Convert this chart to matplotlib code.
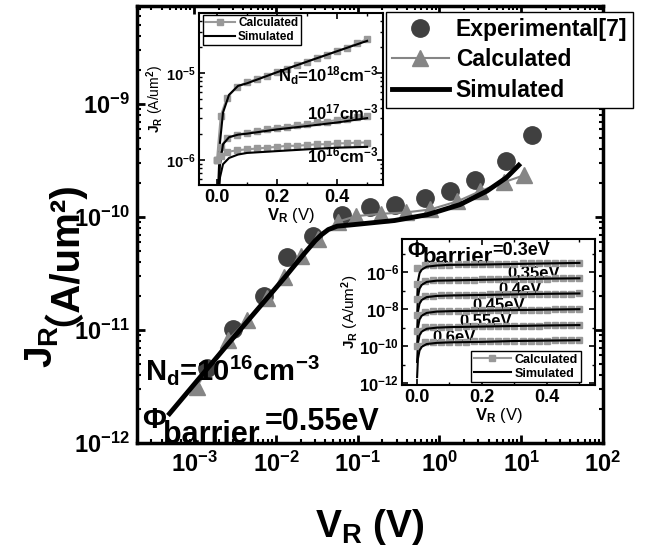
import matplotlib
matplotlib.use('Agg')
import matplotlib.pyplot as plt
from matplotlib.lines import Line2D

plt.rcParams['font.family'] = ['Liberation Sans', 'Noto Sans CJK SC']
plt.rcParams['font.weight'] = 'bold'
plt.rcParams['mathtext.fontset'] = 'custom'
plt.rcParams['mathtext.rm'] = 'Liberation Sans:bold'
plt.rcParams['mathtext.it'] = 'Liberation Sans:bold'
plt.rcParams['mathtext.bf'] = 'Liberation Sans:bold'
plt.rcParams['mathtext.sf'] = 'Liberation Sans:bold'
plt.rcParams['mathtext.default'] = 'rm'

# ---- main plot: J_R vs V_R, Nd=1e16, barrier 0.55 eV ----
exp_v = [0.00145, 0.00295, 0.00708, 0.0135, 0.0288, 0.0646, 0.141, 0.282,
         0.661, 1.35, 2.75, 6.46, 13.5]
exp_j = [4.57e-12, 1.02e-11, 2.0e-11, 4.47e-11, 6.76e-11, 1.05e-10, 1.23e-10,
         1.29e-10, 1.48e-10, 1.70e-10, 2.14e-10, 3.16e-10, 5.37e-10]

calc_v = [0.00107, 0.00257, 0.00447, 0.00776, 0.0126, 0.0200, 0.0331, 0.0575,
          0.0955, 0.191, 0.389, 0.776, 1.66, 3.16, 6.17, 10.7]
calc_j = [3.16e-12, 8.13e-12, 1.23e-11, 1.91e-11, 2.95e-11, 4.57e-11, 6.46e-11,
          9.12e-11, 1.02e-10, 1.07e-10, 1.10e-10, 1.17e-10, 1.38e-10, 1.70e-10,
          2.04e-10, 2.34e-10]

sim_v = [5.0e-4, 2.69e-3, 1.26e-2, 2.24e-2, 3.02e-2, 3.55e-2, 4.37e-2, 5.62e-2,
         7.94e-2, 0.110, 0.282, 0.708, 1.78, 3.80, 6.61, 9.33]
sim_j = [1.82e-12, 7.76e-12, 2.88e-11, 4.79e-11, 6.17e-11, 6.92e-11, 7.76e-11,
         8.32e-11, 8.51e-11, 8.71e-11, 9.33e-11, 1.05e-10, 1.29e-10, 1.70e-10,
         2.24e-10, 2.88e-10]

# ---- inset 1: different doping ----
in1_calc_v = [0.0, 0.0125, 0.033, 0.067, 0.1, 0.133, 0.167, 0.2, 0.233, 0.267,
              0.3, 0.333, 0.367, 0.4, 0.433, 0.467, 0.5]
in1_calc_18 = [1.0e-6, 3.2e-6, 5.2e-6, 6.9e-6, 7.8e-6, 8.5e-6, 9.3e-6, 1.02e-5,
               1.12e-5, 1.23e-5, 1.35e-5, 1.48e-5, 1.62e-5, 1.78e-5, 1.95e-5,
               2.19e-5, 2.45e-5]
in1_calc_17 = [1.0e-6, 1.41e-6, 1.78e-6, 1.95e-6, 2.04e-6, 2.14e-6, 2.24e-6,
               2.34e-6, 2.40e-6, 2.51e-6, 2.57e-6, 2.69e-6, 2.75e-6, 2.88e-6,
               2.95e-6, 3.09e-6, 3.16e-6]
in1_calc_16 = [1.0e-6, 1.12e-6, 1.23e-6, 1.29e-6, 1.32e-6, 1.35e-6, 1.38e-6,
               1.41e-6, 1.45e-6, 1.45e-6, 1.48e-6, 1.51e-6, 1.51e-6, 1.55e-6,
               1.55e-6, 1.58e-6, 1.58e-6]
in1_sim_v = [0.0, 0.004, 0.01, 0.02, 0.04, 0.07, 0.1, 0.2, 0.3, 0.4, 0.5]
in1_sim_18 = [1e-8, 5.0e-7, 1.6e-6, 3.5e-6, 5.6e-6, 7.1e-6, 7.6e-6, 1.02e-5,
              1.35e-5, 1.78e-5, 2.34e-5]
in1_sim_17 = [1e-8, 4.0e-7, 8.9e-7, 1.51e-6, 1.82e-6, 1.95e-6, 2.0e-6, 2.24e-6,
              2.45e-6, 2.69e-6, 3.02e-6]
in1_sim_16 = [1e-8, 3.2e-7, 6.3e-7, 8.9e-7, 1.05e-6, 1.15e-6, 1.20e-6, 1.26e-6,
              1.32e-6, 1.38e-6, 1.41e-6]

# ---- inset 2: different barrier heights ----
in2_calc_v = [0.0, 0.025, 0.05, 0.075, 0.1, 0.125, 0.15, 0.175, 0.2, 0.225,
              0.25, 0.275, 0.3, 0.325, 0.35, 0.375, 0.4, 0.425, 0.45, 0.475, 0.5]
in2_calc = {
    '0.3': [1.6e-6, 2.4e-6, 2.5e-6, 2.6e-6, 2.6e-6, 2.7e-6, 2.7e-6, 2.8e-6, 2.8e-6,
            2.9e-6, 2.9e-6, 2.9e-6, 2.9e-6, 3.0e-6, 3.0e-6, 3.0e-6, 3.1e-6,
            3.1e-6, 3.1e-6, 3.2e-6, 3.2e-6],
    '0.35': [2.4e-7, 3.5e-7, 3.7e-7, 3.8e-7, 3.8e-7, 3.9e-7, 3.9e-7, 4.0e-7,
             4.1e-7, 4.2e-7, 4.2e-7, 4.3e-7, 4.3e-7, 4.4e-7, 4.4e-7, 4.5e-7,
             4.5e-7, 4.6e-7, 4.6e-7, 4.7e-7, 4.7e-7],
    '0.4': [3.6e-8, 5.3e-8, 5.5e-8, 5.7e-8, 5.8e-8, 5.9e-8, 6.0e-8, 6.1e-8,
            6.2e-8, 6.3e-8, 6.4e-8, 6.5e-8, 6.5e-8, 6.6e-8, 6.7e-8, 6.7e-8,
            6.8e-8, 6.9e-8, 7.0e-8, 7.0e-8, 7.1e-8],
    '0.45': [5.0e-9, 7.5e-9, 7.8e-9, 8.0e-9, 8.1e-9, 8.3e-9, 8.4e-9, 8.6e-9,
             8.7e-9, 8.9e-9, 9.0e-9, 9.1e-9, 9.2e-9, 9.3e-9, 9.4e-9, 9.5e-9,
             9.6e-9, 9.7e-9, 9.8e-9, 9.9e-9, 1.0e-8],
    '0.55': [6.9e-10, 1.04e-9, 1.08e-9, 1.10e-9, 1.12e-9, 1.15e-9, 1.16e-9,
             1.19e-9, 1.20e-9, 1.23e-9, 1.24e-9, 1.26e-9, 1.27e-9, 1.28e-9,
             1.30e-9, 1.31e-9, 1.32e-9, 1.34e-9, 1.35e-9, 1.37e-9, 1.38e-9],
    '0.6': [1.05e-10, 1.58e-10, 1.64e-10, 1.68e-10, 1.70e-10, 1.74e-10, 1.76e-10,
            1.81e-10, 1.83e-10, 1.87e-10, 1.89e-10, 1.91e-10, 1.93e-10, 1.95e-10,
            1.97e-10, 1.99e-10, 2.02e-10, 2.04e-10, 2.06e-10, 2.08e-10, 2.1e-10],
}
in2_sim_v = [0.0005, 0.003, 0.008, 0.015, 0.03, 0.06, 0.1, 0.2, 0.3, 0.4, 0.5]
in2_sim = {
    '0.3': [3.2e-8, 3.2e-7, 8.9e-7, 1.4e-6, 2.0e-6, 2.3e-6, 2.5e-6, 2.6e-6,
            2.8e-6, 3.0e-6, 3.2e-6],
    '0.35': [4.7e-9, 4.7e-8, 1.3e-7, 2.1e-7, 3.0e-7, 3.5e-7, 3.6e-7, 3.9e-7,
             4.2e-7, 4.5e-7, 4.7e-7],
    '0.4': [7.1e-10, 7.1e-9, 2.0e-8, 3.2e-8, 4.5e-8, 5.2e-8, 5.5e-8, 5.9e-8,
            6.3e-8, 6.8e-8, 7.1e-8],
    '0.45': [1.0e-10, 1.0e-9, 2.8e-9, 4.5e-9, 6.3e-9, 7.4e-9, 7.8e-9, 8.3e-9,
             8.9e-9, 9.5e-9, 1.0e-8],
    '0.55': [1.4e-11, 1.4e-10, 3.9e-10, 6.2e-10, 8.7e-10, 1.0e-9, 1.07e-9,
             1.15e-9, 1.23e-9, 1.32e-9, 1.38e-9],
    '0.6': [2.1e-12, 2.1e-11, 5.9e-11, 9.3e-11, 1.3e-10, 1.5e-10, 1.6e-10,
            1.7e-10, 1.9e-10, 2.0e-10, 2.1e-10],
}
# where the barrier labels sit (V, J at baseline)
in2_label_pos = {'0.35': (0.277, 4.8e-7), '0.4': (0.25, 6.5e-8),
                 '0.45': (0.172, 8.9e-9), '0.55': (0.132, 1.2e-9),
                 '0.6': (0.049, 1.66e-10)}

GRAY = '#999999'

fig = plt.figure(figsize=(6.49, 5.51), dpi=100)

# main axes
ax = fig.add_axes([137 / 649, 1 - 443 / 551, 466 / 649, 437 / 551])
ax.plot(exp_v, exp_j, 'o', color='#404040', ms=12.5, label='Experimental[7]')
ax.plot(calc_v, calc_j, '-^', color='#858585', ms=12, lw=1.5, label='Calculated')
ax.plot(sim_v, sim_j, '-', color='black', lw=3.5, label='Simulated')
ax.set_xscale('log')
ax.set_yscale('log')
ax.set_xlim(2e-4, 100)
ax.set_ylim(1e-12, 7.4e-9)
ax.tick_params(which='both', direction='in', top=True, right=True, labelsize=17)
ax.tick_params(which='major', length=6, width=2)
ax.tick_params(which='minor', length=3, width=1.5)
ax.tick_params(axis='x', pad=6)
ax.tick_params(axis='y', pad=5)
for s in ax.spines.values():
    s.set_linewidth(2.5)

ax.text(0.017, 0.144, r'$N_d$=10$^{16}$cm$^{-3}$', transform=ax.transAxes,
        fontsize=21, va='baseline', ha='left')
ax.text(0.011, 0.034, 'Φ', transform=ax.transAxes, fontsize=21, va='baseline')
ax.text(0.056, 0.0, 'barrier', transform=ax.transAxes, fontsize=22,
        va='baseline')
ax.text(0.275, 0.030, '=0.55eV', transform=ax.transAxes, fontsize=22,
        va='baseline')

leg = ax.legend(loc='upper right', bbox_to_anchor=(633 / 649, 1 - 12 / 551),
                bbox_transform=fig.transFigure, borderaxespad=0, fontsize=16.5,
                fancybox=False, edgecolor='black', framealpha=1,
                handlelength=2.5, handletextpad=0.3, labelspacing=0.33,
                borderpad=0.25)
leg.get_frame().set_linewidth(1)

fig.text(370 / 649, 1 - 527 / 551, r'$V_R$ (V)', fontsize=28, ha='center',
         va='center')
# y label in two pieces so the full-width bracket can fall back to the CJK font
fig.text(53 / 649, 1 - 368 / 551, r'$J_R$', fontsize=28, rotation=90,
         rotation_mode='anchor', ha='left', va='baseline')
fig.text(53 / 649, 1 - 326 / 551, '（A/um²)', fontsize=29, rotation=90,
         rotation_mode='anchor', ha='left', va='baseline')


def style_inset(a, lab_x, lab_y):
    a.tick_params(which='both', direction='in', top=True, right=True)
    a.tick_params(which='major', length=4, width=1.2)
    a.tick_params(which='minor', length=2, width=1)
    a.tick_params(axis='x', labelsize=lab_x, pad=3)
    a.tick_params(axis='y', labelsize=lab_y, pad=2)
    for s in a.spines.values():
        s.set_linewidth(1.5)
    a.set_xlabel(r'$V_R$ (V)', fontsize=12, labelpad=0)
    a.set_ylabel(r'$J_R$ (A/um$^2$)', fontsize=10, labelpad=0)


# inset 1
ax1 = fig.add_axes([199 / 649, 1 - 185 / 551, 184 / 649, 172 / 551])
for cj, sj in [(in1_calc_18, in1_sim_18), (in1_calc_17, in1_sim_17),
               (in1_calc_16, in1_sim_16)]:
    ax1.plot(in1_calc_v, cj, '-s', color=GRAY, ms=4.5, lw=1.5)
    ax1.plot(in1_sim_v, sj, '-', color='black', lw=1.5)
ax1.set_yscale('log')
ax1.set_xlim(-0.06, 0.553)
ax1.set_ylim(5.13e-7, 4.9e-5)
ax1.set_xticks([0.0, 0.2, 0.4])
ax1.set_xticks([0.1, 0.3, 0.5], minor=True)
ax1.set_xticklabels(['0.0', '0.2', '0.4'])
style_inset(ax1, 13, 10.5)
ax1.text(0.203, 7.9e-6, r'$N_d$=10$^{18}$cm$^{-3}$', fontsize=12, va='baseline')
ax1.text(0.30, 2.9e-6, r'10$^{17}$cm$^{-3}$', fontsize=12, va='baseline')
ax1.text(0.30, 9.3e-7, r'10$^{16}$cm$^{-3}$', fontsize=12, va='baseline')
h_calc = Line2D([], [], color=GRAY, marker='s', ms=4.5, lw=1.5)
h_sim = Line2D([], [], color='black', lw=1.5)
l1 = ax1.legend([h_calc, h_sim], ['Calculated', 'Simulated'], loc='upper left',
                bbox_to_anchor=(0.02, 0.99), borderaxespad=0, fontsize=8.5,
                fancybox=False, edgecolor='black', framealpha=1,
                handlelength=2.5, handletextpad=0.3, labelspacing=0.15,
                borderpad=0.2)
l1.get_frame().set_linewidth(1)

# inset 2
ax2 = fig.add_axes([402 / 649, 1 - 385 / 551, 193 / 649, 146 / 551])
for key in in2_calc:
    ax2.plot(in2_calc_v, in2_calc[key], '-s', color=GRAY, ms=4.5, lw=1.5)
    ax2.plot(in2_sim_v, in2_sim[key], '-', color='black', lw=1.5)
ax2.set_yscale('log')
ax2.set_xlim(-0.046, 0.548)
ax2.set_ylim(7.9e-13, 6.3e-5)
ax2.set_xticks([0.0, 0.2, 0.4])
ax2.set_xticks([0.1, 0.3, 0.5], minor=True)
ax2.set_xticklabels(['0.0', '0.2', '0.4'])
ax2.set_yticks([1e-12, 1e-10, 1e-8, 1e-6])
ax2.set_yticks([1e-11, 1e-9, 1e-7, 1e-5], minor=True)
ax2.set_yticklabels([], minor=True)
style_inset(ax2, 13, 12)
ax2.set_ylabel(r'$J_R$ (A/um$^2$)', fontsize=11, labelpad=-1)
ax2.text(0.026, 0.877, 'Φ', transform=ax2.transAxes, fontsize=16,
         va='baseline', zorder=1)
ax2.text(0.109, 0.836, 'barrier', transform=ax2.transAxes, fontsize=16,
         va='baseline', zorder=1)
ax2.text(0.466, 0.89, '=0.3eV', transform=ax2.transAxes, fontsize=13,
         va='baseline', zorder=1)
for key, (xv, yv) in in2_label_pos.items():
    ax2.text(xv, yv, key + 'eV', fontsize=12, va='baseline', zorder=1)
l2 = ax2.legend([h_calc, h_sim], ['Calculated', 'Simulated'], loc='lower right',
                bbox_to_anchor=(0.925, 0.02), borderaxespad=0, fontsize=9,
                fancybox=False, edgecolor='black', framealpha=1,
                handlelength=3.0, handletextpad=0.3, labelspacing=0.15,
                borderpad=0.2)
l2.get_frame().set_linewidth(1)

fig.savefig('out.png', dpi=100)
